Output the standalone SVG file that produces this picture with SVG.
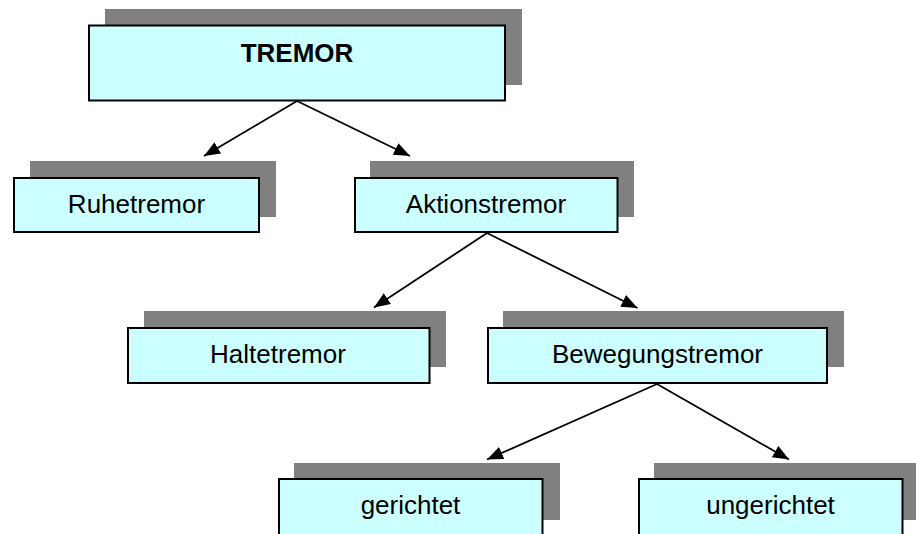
<svg xmlns="http://www.w3.org/2000/svg" width="916" height="534" viewBox="0 0 916 534">
  <style>
    .shadow { fill: #808080; }
    .box { fill: #CCFFFF; stroke: #000000; stroke-width: 2; }
    .label { font-family: "Liberation Sans", Arial, sans-serif; font-size: 26px; fill: #000000; text-anchor: middle; }
    .bold { font-weight: bold; }
    .conn { stroke: #000000; stroke-width: 1.8; fill: none; marker-end: url(#arrow); }
  </style>
  <defs>
    <marker id="arrow" viewBox="0 0 16 13" refX="16" refY="6.5" markerWidth="16" markerHeight="13" markerUnits="userSpaceOnUse" orient="auto">
      <path d="M0,0 L16,6.5 L0,13 z" fill="#000000"/>
    </marker>
  </defs>
  <rect width="916" height="534" fill="#ffffff"/>

  <g id="node-tremor">
    <rect class="shadow" x="105" y="9" width="417" height="76"/>
    <rect class="box" x="89" y="25.5" width="416" height="75"/>
    <text class="label bold" x="297" y="62">TREMOR</text>
  </g>

  <g id="node-ruhetremor">
    <rect class="shadow" x="30" y="161" width="246" height="56"/>
    <rect class="box" x="14" y="178" width="245" height="54"/>
    <text class="label" x="136.5" y="212.5">Ruhetremor</text>
  </g>

  <g id="node-aktionstremor">
    <rect class="shadow" x="370" y="161" width="264" height="56"/>
    <rect class="box" x="355" y="178" width="262.5" height="54"/>
    <text class="label" x="486" y="212.5">Aktionstremor</text>
  </g>

  <g id="node-haltetremor">
    <rect class="shadow" x="144" y="311" width="302" height="56"/>
    <rect class="box" x="128" y="328" width="301.5" height="55"/>
    <text class="label" x="278" y="362.5">Haltetremor</text>
  </g>

  <g id="node-bewegungstremor">
    <rect class="shadow" x="503" y="311" width="341" height="56"/>
    <rect class="box" x="488" y="328" width="339" height="55"/>
    <text class="label" x="657.5" y="362.5">Bewegungstremor</text>
  </g>

  <g id="node-gerichtet">
    <rect class="shadow" x="294" y="463" width="266" height="57"/>
    <rect class="box" x="279" y="479" width="263.5" height="60"/>
    <text class="label" x="410.5" y="513.5">gerichtet</text>
  </g>

  <g id="node-ungerichtet">
    <rect class="shadow" x="654" y="463" width="265" height="57"/>
    <rect class="box" x="639" y="479" width="263.5" height="60"/>
    <text class="label" x="770.5" y="513.5">ungerichtet</text>
  </g>

  <g id="connectors">
    <line class="conn" x1="297" y1="101" x2="204" y2="156"/>
    <line class="conn" x1="297" y1="101" x2="410" y2="156"/>
    <line class="conn" x1="487" y1="233" x2="374" y2="307.5"/>
    <line class="conn" x1="487" y1="233" x2="637.5" y2="308"/>
    <line class="conn" x1="657" y1="384" x2="487" y2="459.5"/>
    <line class="conn" x1="657" y1="384" x2="789" y2="459.5"/>
  </g>
</svg>
